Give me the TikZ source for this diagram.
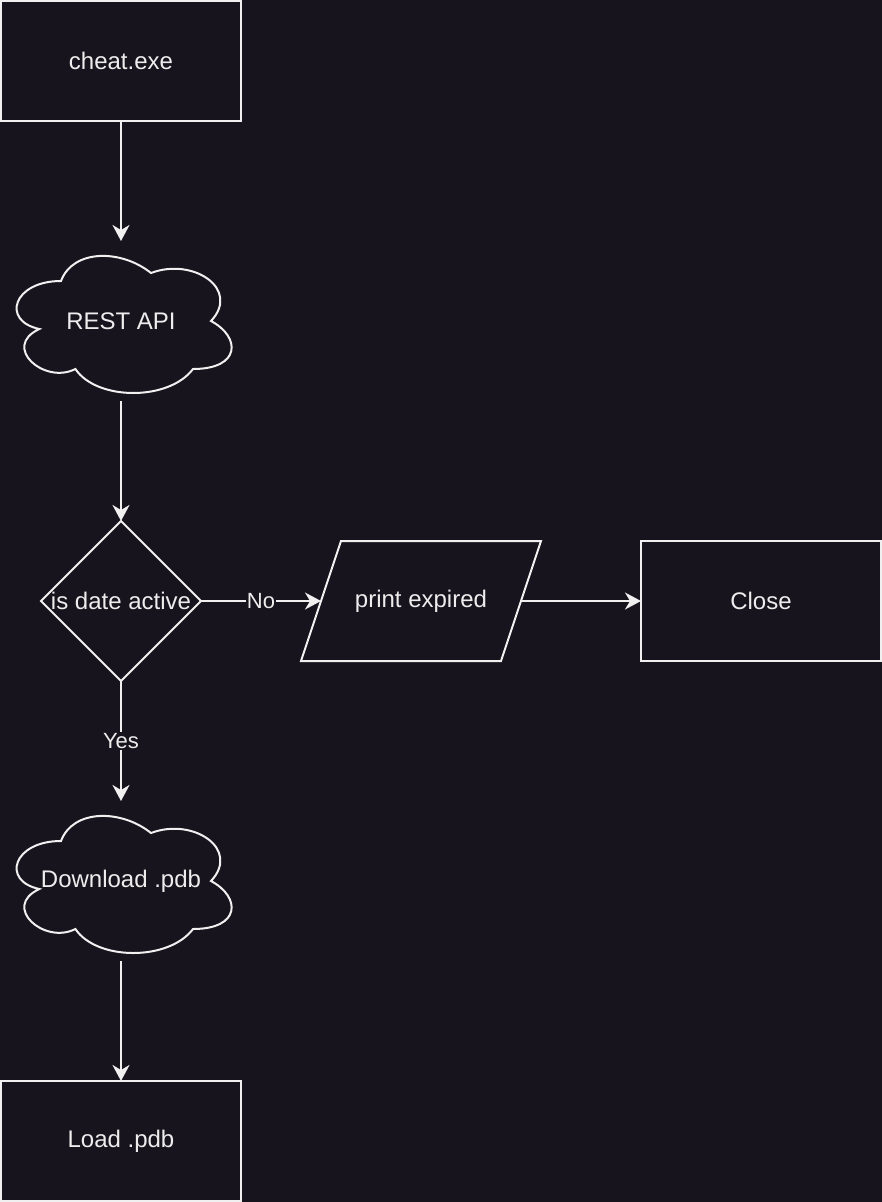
\documentclass[tikz,border=0pt]{standalone}
\usepackage{fontspec}
\setmainfont{Liberation Sans}
\usetikzlibrary{arrows.meta, shapes.geometric}
\definecolor{bgdark}{HTML}{18141D}
\definecolor{edgewhite}{HTML}{F0F0F0}
\definecolor{txtwhite}{HTML}{EDEDED}

\tikzset{cloudline/.pic={
  \draw[edgewhite, line width=2pt, x=240pt, y=-160pt]
    (0.25,0.25) .. controls (0.05,0.25) and (0,0.5) .. (0.16,0.55)
    .. controls (0,0.66) and (0.18,0.9) .. (0.31,0.8)
    .. controls (0.4,1) and (0.7,1) .. (0.8,0.8)
    .. controls (1,0.8) and (1,0.6) .. (0.875,0.5)
    .. controls (1,0.3) and (0.8,0.1) .. (0.625,0.2)
    .. controls (0.5,0.05) and (0.3,0.05) .. (0.25,0.25) -- cycle;
}}

\begin{document}
\begin{tikzpicture}[x=1pt, y=-1pt,
  >={Stealth[length=16pt, width=17pt, inset=5pt]},
  every node/.style={text=txtwhite, font=\fontsize{24}{28}\selectfont, inner sep=0pt, outer sep=0pt},
  procbox/.style={draw=edgewhite, line width=2pt, minimum width=240pt, minimum height=120pt},
  cloudbox/.style={minimum width=240pt, minimum height=160pt},
  decision/.style={draw=edgewhite, line width=2pt, diamond, aspect=1, minimum width=160pt, minimum height=160pt},
  iobox/.style={minimum width=200pt, minimum height=120pt},
  flow/.style={->, draw=edgewhite, line width=2pt},
  edgelabel/.style={fill=bgdark, font=\fontsize{22}{26}\selectfont, inner sep=1pt}]

% Background
\fill[bgdark] (0,0) rectangle (882,1202);
\useasboundingbox (0,0) rectangle (882,1202);

% Main column
\node[procbox] (cheat) at (121,61) {cheat.exe};
\node[cloudbox] (rest) at (121,321) {REST API};
\pic at (rest.north west) {cloudline};
\node[decision] (check) at (121,601) {\makebox[0pt]{is date active}};
\node[cloudbox] (download) at (121,881) {Download .pdb};
\pic at (download.north west) {cloudline};
\node[procbox] (load) at (121,1141) {Load .pdb};

% Expired branch
\node[iobox] (expired) at (421,601) {print expired};
\draw[edgewhite, line width=2pt] ([xshift=-20pt]expired.south west) -- ([xshift=20pt]expired.north west)
  -- ([xshift=20pt]expired.north east) -- ([xshift=-20pt]expired.south east) -- cycle;
\node[procbox] (close) at (761,601) {Close};

% Connectors
\draw[flow] (cheat) -- (rest);
\draw[flow] (rest) -- (check);
\draw[flow] (check) -- node[edgelabel] {No} (expired);
\draw[flow] (expired) -- (close);
\draw[flow] (check) -- node[edgelabel] {Yes} (download);
\draw[flow] (download) -- (load);

\end{tikzpicture}
\end{document}
